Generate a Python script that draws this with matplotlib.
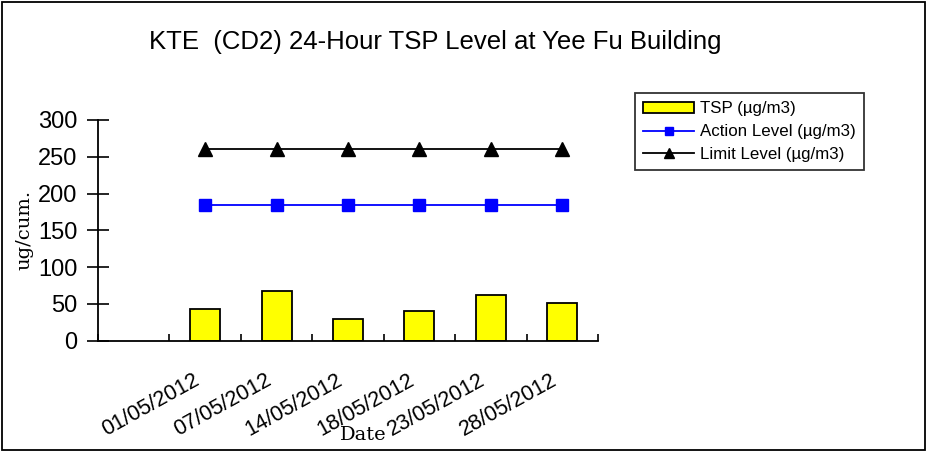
import numpy as np
import matplotlib
matplotlib.use("Agg")
import matplotlib.pyplot as plt
from matplotlib.patches import Rectangle
from matplotlib.lines import Line2D
from matplotlib.ticker import FixedLocator
from matplotlib.transforms import ScaledTranslation

categories = ["", "01/05/2012", "07/05/2012", "14/05/2012", "18/05/2012", "23/05/2012", "28/05/2012"]
tsp = [np.nan, 43, 68, 29, 40, 62, 51]
action_level = [np.nan, 185, 185, 185, 185, 185, 185]
limit_level = [np.nan, 260, 260, 260, 260, 260, 260]
yticks = [0, 50, 100, 150, 200, 250, 300]

plt.rcParams['font.family'] = ['Liberation Sans', 'DejaVu Sans']

W, H = 926, 451
fig = plt.figure(figsize=(W / 100, H / 100), dpi=100)
fig.patch.set_facecolor("white")

# outer border
fig.add_artist(Rectangle((1.5 / W, 1.5 / H), 1 - 3 / W, 1 - 3 / H, transform=fig.transFigure,
                         fill=False, edgecolor="black", linewidth=1.3))

left, right = 98 / W, 598 / W
bottom = (H - 340.7) / H
top = (H - 120) / H
ax = fig.add_axes([left, bottom, right - left, top - bottom])

x = np.arange(len(categories))
ax.bar(x, tsp, width=0.42, color="#FFFF00", edgecolor="black", linewidth=1.3, zorder=2)
ax.plot(x, action_level, color="#0000FF", linewidth=1.3, marker="s", markersize=8, zorder=3)
ax.plot(x, limit_level, color="black", linewidth=1.3, marker="^", markersize=9.5, zorder=3)

ax.set_xlim(-0.5, len(categories) - 0.5)
ax.set_ylim(0, 300)
ax.set_yticks(yticks)
ax.tick_params(axis="y", direction="inout", length=16, width=1.2, labelsize=17, pad=7)

ax.set_xticks(x)
ax.set_xticklabels(categories, rotation=29, ha="right", rotation_mode="anchor", fontsize=15.5)
ax.tick_params(axis="x", which="major", length=0, pad=21)
ax.xaxis.set_minor_locator(FixedLocator(np.arange(len(categories) + 1) - 0.5))
ax.tick_params(axis="x", which="minor", direction="in", length=5, width=1.2)
shift = ScaledTranslation(-12 / 100, 0, fig.dpi_scale_trans)
for lbl in ax.get_xticklabels():
    lbl.set_transform(lbl.get_transform() + shift)

for s in ["top", "right"]:
    ax.spines[s].set_visible(False)
for s in ["left", "bottom"]:
    ax.spines[s].set_linewidth(1.3)

ax.set_ylabel("ug/cum.", family="DejaVu Serif", fontsize=14)
ax.yaxis.set_label_coords(-0.13, 0.5)
ax.set_xlabel("Date", family="DejaVu Serif", fontsize=14)
ax.xaxis.set_label_coords((363 - 98) / 500, -0.385)

fig.text(435 / W, 1 - 42 / H, "KTE  (CD2) 24-Hour TSP Level at Yee Fu Building",
         ha="center", va="center", fontsize=18.5)

handles = [
    Rectangle((0, 0), 1, 1, facecolor="#FFFF00", edgecolor="black", linewidth=1.3),
    Line2D([], [], color="#0000FF", linewidth=1.3, marker="s", markersize=6),
    Line2D([], [], color="black", linewidth=1.3, marker="^", markersize=7),
]
labels = ["TSP (\u00b5g/m3)", "Action Level (\u00b5g/m3)", "Limit Level (\u00b5g/m3)"]
leg = fig.legend(handles, labels, loc="upper left", bbox_to_anchor=(635 / W, 1 - 93 / H),
                 bbox_transform=fig.transFigure, fontsize=12.2, frameon=True, fancybox=False,
                 handlelength=3.0, handleheight=0.55, handletextpad=0.35, borderpad=0.5,
                 labelspacing=0.45, borderaxespad=0)
leg.get_frame().set_edgecolor("black")
leg.get_frame().set_linewidth(1.3)

fig.savefig("out.png", dpi=100, facecolor="white")
